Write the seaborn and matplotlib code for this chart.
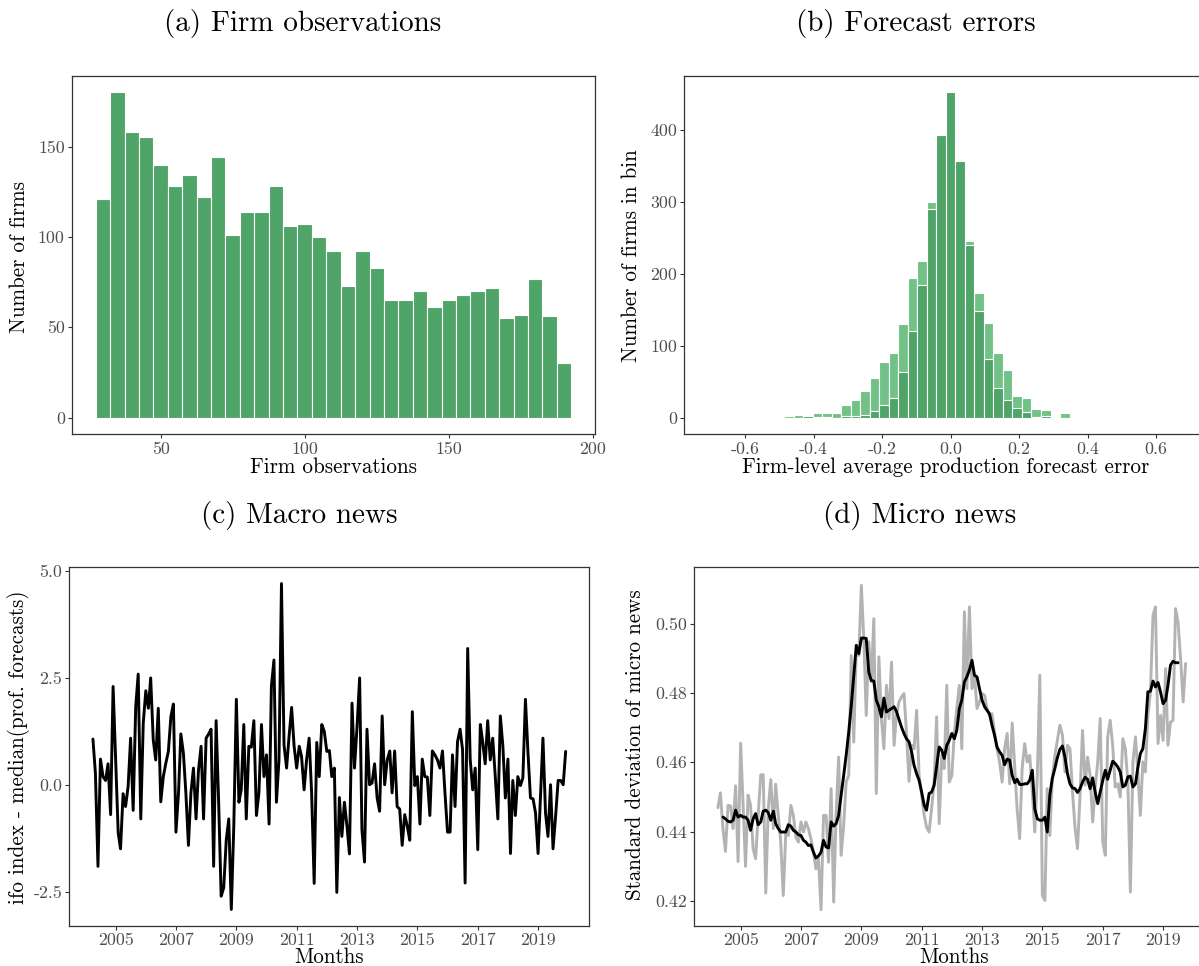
import numpy as np
import pandas as pd
import matplotlib
matplotlib.use("Agg")
import matplotlib.pyplot as plt
import seaborn as sns

# ---------------- data ----------------
# (a) firm observations: histogram bins (centres) and counts
obs_bin_centers = [30, 35, 40, 45, 50, 55, 60, 65, 70, 75, 80, 85, 90, 95, 100, 105, 110,
                   115, 120, 125, 130, 135, 140, 145, 150, 155, 160, 165, 170, 175, 180, 185, 190]
obs_counts = [121, 180, 158, 155, 140, 128, 134, 122, 144, 101, 114, 114, 128, 106, 107, 100, 92,
              73, 92, 83, 65, 65, 70, 61, 65, 68, 70, 72, 55, 57, 77, 56, 30]
obs_binwidth = 5
obs_xticks = [50, 100, 150, 200]
obs_yticks = [0, 50, 100, 150]

# (b) forecast errors: bin index (times bin width) and counts of the two overlaid histograms
err_bin_index = list(range(-21, 16))
err_binwidth = 0.0278
err_light = [1, 0, 0, 1, 2, 4, 3, 7, 7, 7, 18, 25, 37, 55, 78, 90, 130, 194, 218, 300,
             380, 440, 345, 246, 173, 132, 90, 66, 30, 28, 12, 11, 1, 7, 0, 0, 1]
err_dark = [0, 0, 0, 0, 0, 0, 2, 1, 1, 0, 3, 3, 4, 9, 17, 28, 63, 121, 185, 290,
            393, 452, 357, 240, 148, 81, 41, 25, 14, 8, 1, 3, 0, 0, 0, 0, 0]
err_xticks = [-0.6, -0.4, -0.2, 0.0, 0.2, 0.4, 0.6]
err_xticklabels = ["-0.6", "-0.4", "-0.2", "0.0", "0.2", "0.4", "0.6"]
err_yticks = [0, 100, 200, 300, 400]

# (c) macro news, monthly from 2004-04
macro_start = "2004-04-01"
macro_news = [
    1.07, 0.27, -1.91, 0.60, 0.19, 0.10, 0.49, -0.70, 2.30, 0.55,
    -1.13, -1.50, -0.21, -0.51, -0.04, 1.09, -0.60, 1.83, 2.59, -0.80,
    1.44, 2.20, 1.79, 2.50, 1.05, 0.58, 1.79, -0.40, 0.19, 0.51,
    0.78, 1.60, 1.89, -1.11, -0.19, 1.19, 0.74, -0.19, -1.42, -0.19,
    0.39, -0.80, 0.35, 0.90, -0.80, 1.09, 1.19, 1.30, -1.91, 1.50,
    -0.43, -2.61, -2.41, -1.29, -0.80, -2.92, -0.97, 2.00, -0.41, -0.12,
    1.41, -0.80, 0.90, 0.88, 1.50, -0.72, -0.19, 1.41, 0.19, 0.70,
    -0.92, 2.30, 2.92, -0.41, 0.58, 4.71, 0.93, 0.39, 1.13, 1.81,
    0.90, 0.39, 0.90, 0.66, -0.12, 0.58, 1.09, -0.19, -2.31, 0.99,
    0.19, 1.41, 1.25, 0.78, 0.80, 0.19, 0.39, -2.52, -0.30, -1.21,
    -0.41, -0.97, -1.62, 1.91, 0.39, 1.36, 2.50, -1.05, -1.81, 1.30,
    0.00, 0.04, 0.49, -0.31, -0.62, 1.61, 0.00, 0.58, 0.79, -0.19,
    0.79, -0.51, -0.57, -1.42, -0.70, -0.97, -1.30, 1.71, -0.02, 0.19,
    -0.92, 0.60, 0.19, 0.18, -0.72, 0.79, 0.70, 0.58, 0.39, 0.79,
    -0.19, -1.11, -1.11, 0.70, -0.51, 1.01, 1.30, 0.82, -2.30, 3.19,
    0.60, -0.12, 0.39, -1.52, 1.41, 1.01, 0.49, 1.50, 0.58, 1.09,
    0.19, -0.80, 1.61, 0.90, -0.31, 0.60, -1.61, 0.10, -0.72, 0.19,
    -0.02, 0.16, 2.00, 0.74, -0.31, -0.33, -0.66, -1.61, -0.19, 1.09,
    -0.66, -1.21, 0.00, -1.50, -0.74, 0.10, 0.10, 0.00, 0.78]
macro_yticks = [-2.5, 0.0, 2.5, 5.0]
macro_yticklabels = ["-2.5", "0.0", "2.5", "5.0"]

# (d) micro news: raw monthly series (grey) from 2004-04, smoothed (black) from 2004-06
micro_raw_start = "2004-04-01"
micro_raw = [
    0.4469, 0.4512, 0.4409, 0.4343, 0.4476, 0.4474, 0.4409, 0.4532, 0.4314, 0.4655,
    0.4466, 0.4300, 0.4505, 0.4476, 0.4351, 0.4322, 0.4447, 0.4564, 0.4564, 0.4223,
    0.4466, 0.4550, 0.4409, 0.4537, 0.4447, 0.4370, 0.4216, 0.4394, 0.4389, 0.4476,
    0.4447, 0.4384, 0.4370, 0.4428, 0.4399, 0.4428, 0.4409, 0.4380, 0.4341, 0.4293,
    0.4322, 0.4175, 0.4447, 0.4447, 0.4312, 0.4524, 0.4197, 0.4447, 0.4615, 0.4332,
    0.4418, 0.4543, 0.4562, 0.4908, 0.4658, 0.4937, 0.4908, 0.5110, 0.4947, 0.4735,
    0.4947, 0.4832, 0.5014, 0.4510, 0.4904, 0.4726, 0.4639, 0.4822, 0.4726, 0.4889,
    0.4649, 0.4735, 0.4774, 0.4788, 0.4798, 0.4687, 0.4545, 0.4649, 0.4639, 0.4750,
    0.4562, 0.4505, 0.4447, 0.4413, 0.4399, 0.4466, 0.4543, 0.4731, 0.4423, 0.4620,
    0.4582, 0.4822, 0.4543, 0.4562, 0.4687, 0.4755, 0.4822, 0.4639, 0.5034, 0.4812,
    0.5048, 0.4812, 0.4851, 0.4755, 0.4774, 0.4798, 0.4793, 0.4755, 0.4735, 0.4740,
    0.4687, 0.4639, 0.4601, 0.4543, 0.4639, 0.4683, 0.4538, 0.4713, 0.4582, 0.4466,
    0.4380, 0.4582, 0.4654, 0.4601, 0.4620, 0.4514, 0.4399, 0.4562, 0.4851, 0.4216,
    0.4202, 0.4524, 0.4389, 0.4553, 0.4620, 0.4663, 0.4707, 0.4678, 0.4572, 0.4649,
    0.4639, 0.4514, 0.4409, 0.4351, 0.4505, 0.4692, 0.4534, 0.4615, 0.4562, 0.4428,
    0.4524, 0.4601, 0.4726, 0.4370, 0.4332, 0.4673, 0.4721, 0.4649, 0.4529, 0.4538,
    0.4500, 0.4668, 0.4639, 0.4543, 0.4226, 0.4601, 0.4673, 0.4572, 0.4447, 0.4601,
    0.4572, 0.4735, 0.4803, 0.5024, 0.5048, 0.4654, 0.4735, 0.4663, 0.4870, 0.4649,
    0.4716, 0.4721, 0.5043, 0.5005, 0.4899, 0.4774, 0.4885]
micro_smooth_start = "2004-06-01"
micro_smooth = [
    0.4442, 0.4437, 0.4430, 0.4428, 0.4433, 0.4462, 0.4442, 0.4447,
    0.4442, 0.4442, 0.4433, 0.4404, 0.4437, 0.4452, 0.4420, 0.4428, 0.4459, 0.4462,
    0.4455, 0.4433, 0.4459, 0.4423, 0.4409, 0.4399, 0.4399, 0.4399, 0.4420, 0.4416,
    0.4404, 0.4399, 0.4391, 0.4389, 0.4375, 0.4370, 0.4360, 0.4362, 0.4341, 0.4324,
    0.4330, 0.4341, 0.4375, 0.4356, 0.4353, 0.4428, 0.4416, 0.4423, 0.4447, 0.4505,
    0.4562, 0.4620, 0.4687, 0.4764, 0.4851, 0.4937, 0.4913, 0.4958, 0.4958, 0.4957,
    0.4860, 0.4836, 0.4834, 0.4779, 0.4760, 0.4731, 0.4785, 0.4745, 0.4750, 0.4755,
    0.4760, 0.4747, 0.4724, 0.4702, 0.4683, 0.4668, 0.4659, 0.4630, 0.4591, 0.4567,
    0.4548, 0.4514, 0.4476, 0.4462, 0.4510, 0.4514, 0.4534, 0.4587, 0.4644, 0.4635,
    0.4611, 0.4649, 0.4663, 0.4683, 0.4668, 0.4692, 0.4755, 0.4779, 0.4832, 0.4846,
    0.4866, 0.4894, 0.4851, 0.4846, 0.4812, 0.4779, 0.4760, 0.4750, 0.4740, 0.4707,
    0.4678, 0.4644, 0.4630, 0.4620, 0.4593, 0.4609, 0.4606, 0.4562, 0.4541, 0.4551,
    0.4536, 0.4536, 0.4538, 0.4538, 0.4548, 0.4577, 0.4466, 0.4437, 0.4433, 0.4433,
    0.4442, 0.4399, 0.4505, 0.4553, 0.4582, 0.4613, 0.4637, 0.4647, 0.4615, 0.4567,
    0.4538, 0.4526, 0.4524, 0.4513, 0.4524, 0.4543, 0.4557, 0.4551, 0.4524, 0.4555,
    0.4514, 0.4481, 0.4514, 0.4548, 0.4577, 0.4551, 0.4577, 0.4603, 0.4596, 0.4587,
    0.4572, 0.4529, 0.4534, 0.4558, 0.4560, 0.4529, 0.4538, 0.4584, 0.4625, 0.4639,
    0.4697, 0.4803, 0.4805, 0.4834, 0.4817, 0.4830, 0.4803, 0.4769, 0.4779, 0.4822,
    0.4880, 0.4891, 0.4887, 0.4887]
micro_yticks = [0.42, 0.44, 0.46, 0.48, 0.50]
micro_yticklabels = ["0.42", "0.44", "0.46", "0.48", "0.50"]

year_ticks = [2005, 2007, 2009, 2011, 2013, 2015, 2017, 2019]

# ---------------- style ----------------
sns.set_style("white")
plt.rcParams["font.family"] = ["cmr10", "DejaVu Serif"]
plt.rcParams["axes.unicode_minus"] = False
plt.rcParams["axes.formatter.use_mathtext"] = True

DARK = "#4fa467"
LIGHT = "#72c288"
GREY_LINE = "#b3b3b3"
TICK_COL = "#4d4d4d"
FRAME = "#333333"

W, H = 1199, 966
fig = plt.figure(figsize=(W / 100, H / 100), dpi=100)


def add_ax(left, top, right, bottom):
    return fig.add_axes([left / W, 1 - bottom / H, (right - left) / W, (bottom - top) / H])


def style(ax):
    ax.set_xlabel("")
    ax.set_ylabel("")
    ax.grid(False)
    for s in ax.spines.values():
        s.set_visible(True)
        s.set_color(FRAME)
        s.set_linewidth(0.9)
    ax.tick_params(axis="both", which="both", direction="out", length=3, width=0.8,
                   color=FRAME, labelcolor=TICK_COL, labelsize=12.8, pad=2.2,
                   bottom=True, left=True, top=False, right=False)


ax_a = add_ax(72, 76, 595, 434)
ax_b = add_ax(684.3, 76, 1208, 434)
ax_c = add_ax(69.3, 567.3, 589.3, 925.7)
ax_d = add_ax(694.3, 567.3, 1214.3, 925.7)

# (a)
df_a = pd.DataFrame({"obs": obs_bin_centers, "n": obs_counts})
range_a = (obs_bin_centers[0] - obs_binwidth / 2, obs_bin_centers[-1] + obs_binwidth / 2)
sns.histplot(data=df_a, x="obs", weights="n", binwidth=obs_binwidth, binrange=range_a,
             color=DARK, alpha=1, edgecolor="white", linewidth=0.8, ax=ax_a)
ax_a.set_xlim(19.25, 200.75)
ax_a.set_ylim(-9, 189)
ax_a.set_xticks(obs_xticks)
ax_a.set_xticklabels([str(v) for v in obs_xticks])
ax_a.set_yticks(obs_yticks)
ax_a.set_yticklabels([str(v) for v in obs_yticks])
style(ax_a)

# (b)
centers_b = [i * err_binwidth for i in err_bin_index]
range_b = ((err_bin_index[0] - 0.5) * err_binwidth, (err_bin_index[-1] + 0.5) * err_binwidth)
df_b = pd.DataFrame({"err": centers_b, "light": err_light, "dark": err_dark})
sns.histplot(data=df_b, x="err", weights="light", binwidth=err_binwidth, binrange=range_b,
             color=LIGHT, alpha=1, edgecolor="white", linewidth=0.8, ax=ax_b)
sns.histplot(data=df_b, x="err", weights="dark", binwidth=err_binwidth, binrange=range_b,
             color=DARK, alpha=1, edgecolor="white", linewidth=0.8, ax=ax_b)
ax_b.set_xlim(-0.778, 0.752)
ax_b.set_ylim(-22.6, 474.6)
ax_b.set_xticks(err_xticks)
ax_b.set_xticklabels(err_xticklabels)
ax_b.set_yticks(err_yticks)
ax_b.set_yticklabels([str(v) for v in err_yticks])
style(ax_b)

# time axes
x_left = pd.Timestamp("2004-04-01") - pd.Timedelta(days=286)
x_right = pd.Timestamp("2019-12-01") + pd.Timedelta(days=286)
tick_dates = [pd.Timestamp(f"{y}-01-01") for y in year_ticks]

# (c)
df_c = pd.DataFrame({"date": pd.date_range(macro_start, periods=len(macro_news), freq="MS"),
                     "v": macro_news})
sns.lineplot(data=df_c, x="date", y="v", color="black", linewidth=2.1, ax=ax_c)
ax_c.set_xlim(x_left, x_right)
ax_c.set_ylim(-3.30, 5.09)
ax_c.set_xticks(tick_dates)
ax_c.set_xticklabels([str(y) for y in year_ticks])
ax_c.set_yticks(macro_yticks)
ax_c.set_yticklabels(macro_yticklabels)
style(ax_c)

# (d)
df_d1 = pd.DataFrame({"date": pd.date_range(micro_raw_start, periods=len(micro_raw), freq="MS"),
                      "v": micro_raw})
df_d2 = pd.DataFrame({"date": pd.date_range(micro_smooth_start, periods=len(micro_smooth), freq="MS"),
                      "v": micro_smooth})
sns.lineplot(data=df_d1, x="date", y="v", color=GREY_LINE, linewidth=2.1, ax=ax_d)
sns.lineplot(data=df_d2, x="date", y="v", color="black", linewidth=2.1, ax=ax_d)
ax_d.set_xlim(x_left, x_right)
ax_d.set_ylim(0.4129, 0.5162)
ax_d.set_xticks(tick_dates)
ax_d.set_xticklabels([str(y) for y in year_ticks])
ax_d.set_yticks(micro_yticks)
ax_d.set_yticklabels(micro_yticklabels)
style(ax_d)


def ftext(x, y, s, size, rot=0):
    fig.text(x / W, 1 - y / H, s, fontsize=size, rotation=rot, ha="center", va="center",
             color="black")


# titles
ftext(303, 23, "(a) Firm observations", 21)
ftext(916, 23, "(b) Forecast errors", 21)
ftext(299, 516, "(c) Macro news", 21)
ftext(920, 516, "(d) Micro news", 21)

# axis titles
ftext(333, 467, "Firm observations", 15.2)
ftext(946, 467, "Firm-level average production forecast error", 15.2)
ftext(329, 957, "Months", 15.2)
ftext(954, 957, "Months", 15.2)
ftext(19, 257, "Number of firms", 15.2, 90)
ftext(631, 256, "Number of firms in bin", 15.2, 90)
ftext(19, 747, "ifo index - median(prof. forecasts)", 15.2, 90)
ftext(635, 745, "Standard deviation of micro news", 15.2, 90)

fig.savefig("out.png", dpi=100)
